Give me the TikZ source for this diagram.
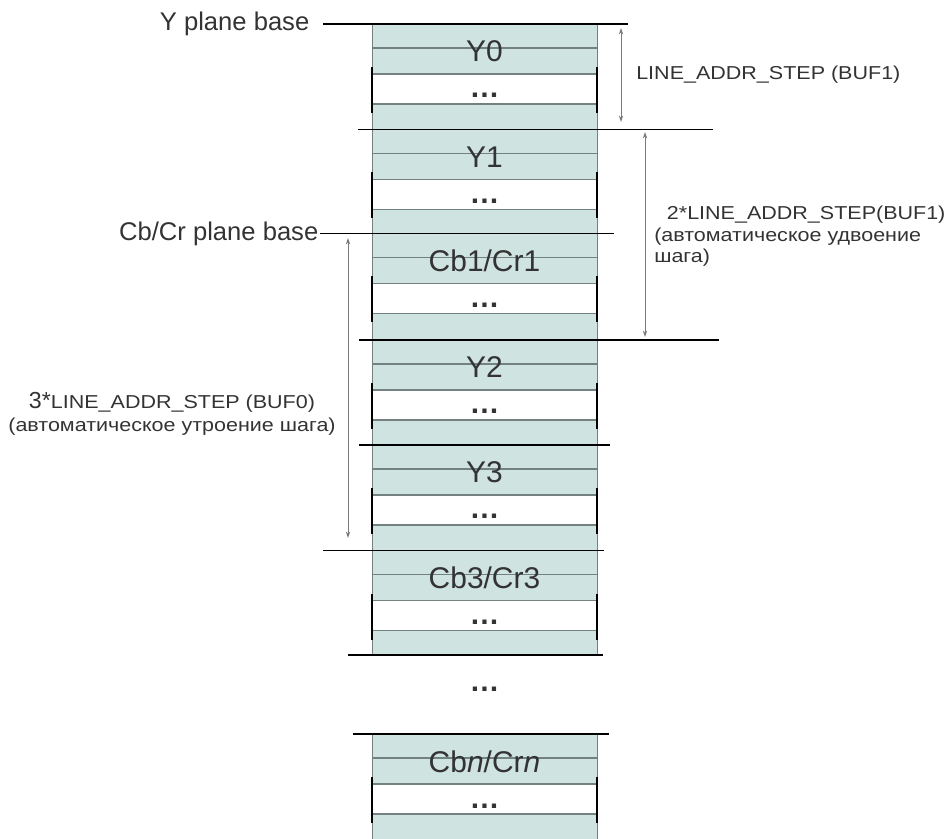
\documentclass[tikz,border=0pt]{standalone}
\usepackage{fontspec}
\setmainfont{Liberation Sans}
\newfontfamily\widesans[FakeStretch=1.15]{Liberation Sans}
\usetikzlibrary{arrows.meta,positioning}
\definecolor{ink}{HTML}{333333}
\definecolor{rowfill}{HTML}{CFE3E1}
\definecolor{rowline}{HTML}{738180}
\definecolor{arrowgray}{HTML}{7A7A7A}
\tikzset{
  stripe/.style={draw=rowline,line width=0.9pt},
  colside/.style={draw=rowline,line width=0.7pt},
  sideline/.style={draw=black,line width=1.4pt},
  planeline/.style={draw=black,line width=1.4pt},
  dimarrow/.style={{Stealth[length=4.5pt,width=3pt]}-{Stealth[length=4.5pt,width=3pt]},draw=arrowgray,line width=0.7pt},
  planelbl/.style={font=\fontsize{18.2}{22}\selectfont,text=ink,inner sep=1pt},
  blocklbl/.style={font=\fontsize{21.3}{25}\selectfont,text=ink,inner sep=0pt},
  dotlbl/.style={font=\bfseries\fontsize{21.3}{25}\selectfont,text=ink,inner sep=0pt},
  steplbl/.style={font=\widesans\fontsize{13.3}{15.2}\selectfont,text=ink,inner sep=0pt}
}
\begin{document}
\begin{tikzpicture}[x=0.025cm,y=-0.025cm]
    \useasboundingbox (0,0) rectangle (948,839);
    \fill[rowfill] (372,24) rectangle (597,655);
    \fill[rowfill] (372,734) rectangle (597,839);
    \draw[colside] (372,24) -- (372,655) (597,24) -- (597,655);
    \draw[colside] (372,734) -- (372,839) (597,734) -- (597,839);
    \foreach \yy/\nm/\txt in {24/y0/Y0,129.5/y1/Y1,233.5/cb1/{Cb1/Cr1},340/y2/Y2,445/y3/Y3,550.5/cb3/{Cb3/Cr3},734/cbn/{Cb\textit{n}/Cr\textit{n}}}{
      \fill[white] (372,\yy+50) rectangle (597,\yy+80);
      \foreach \dd in {24,50,80}
        \draw[stripe] (372,\yy+\dd) -- (597,\yy+\dd);
      \draw[sideline] (372,\yy+43) -- (372,\yy+89);
      \draw[sideline] (597,\yy+43) -- (597,\yy+89);
      \node[blocklbl,anchor=base] (\nm) at (484.5,\yy+38) {\txt};
      \node[dotlbl,anchor=base] (\nm-dots) at (484.5,\yy+74) {\dots};
    }
    \node[dotlbl,anchor=base] (gapdots) at (484.5,691) {\dots};
    \draw[planeline] (358,129.5) -- (713,129.5);
    \draw[planeline] (359,340) -- (719,340);
    \draw[planeline] (359,445) -- (610,445);
    \draw[planeline] (323,550.5) -- (604,550.5);
    \draw[planeline] (348,655) -- (603,655);
    \draw[planeline] (353,734) -- (609,734);
    \node[planelbl,anchor=east] (yplane) at (311,24) {Y plane base};
    \draw[planeline] (yplane.east) ++(12,0) -- (628,24);
    \node[planelbl,anchor=east] (cbplane) at (320,233.5) {Cb/Cr plane base};
    \draw[planeline] (cbplane.east) -- (614,233.5);
    \node[steplbl,anchor=base west] (stepone) at (636,80) {LINE\_ADDR\_STEP (BUF1)};
    \node[steplbl,anchor=north west,align=left] (steptwo) at (654,206) {\hspace*{9pt}2*LINE\_ADDR\_STEP(BUF1)\\(автоматическое удвоение\\шага)};
    \node[steplbl,font=\widesans\fontsize{13.3}{16.5}\selectfont,anchor=north,align=center] (stepthree) at (172,392) {{\rmfamily\fontsize{16.5}{16.5}\selectfont 3*}LINE\_ADDR\_STEP (BUF0)\\(автоматическое утроение шага)};
    \coordinate (onetop) at (621,28);
    \coordinate (onebot) at (621,122);
    \coordinate (twotop) at (645,132);
    \coordinate (twobot) at (645,337);
    \coordinate (threetop) at (348,238);
    \coordinate (threebot) at (348,538);
    \draw[dimarrow] (onetop) -- (onebot);
    \draw[dimarrow] (twotop) -- (twobot);
    \draw[dimarrow] (threetop) -- (threebot);
  \end{tikzpicture}
\end{document}
